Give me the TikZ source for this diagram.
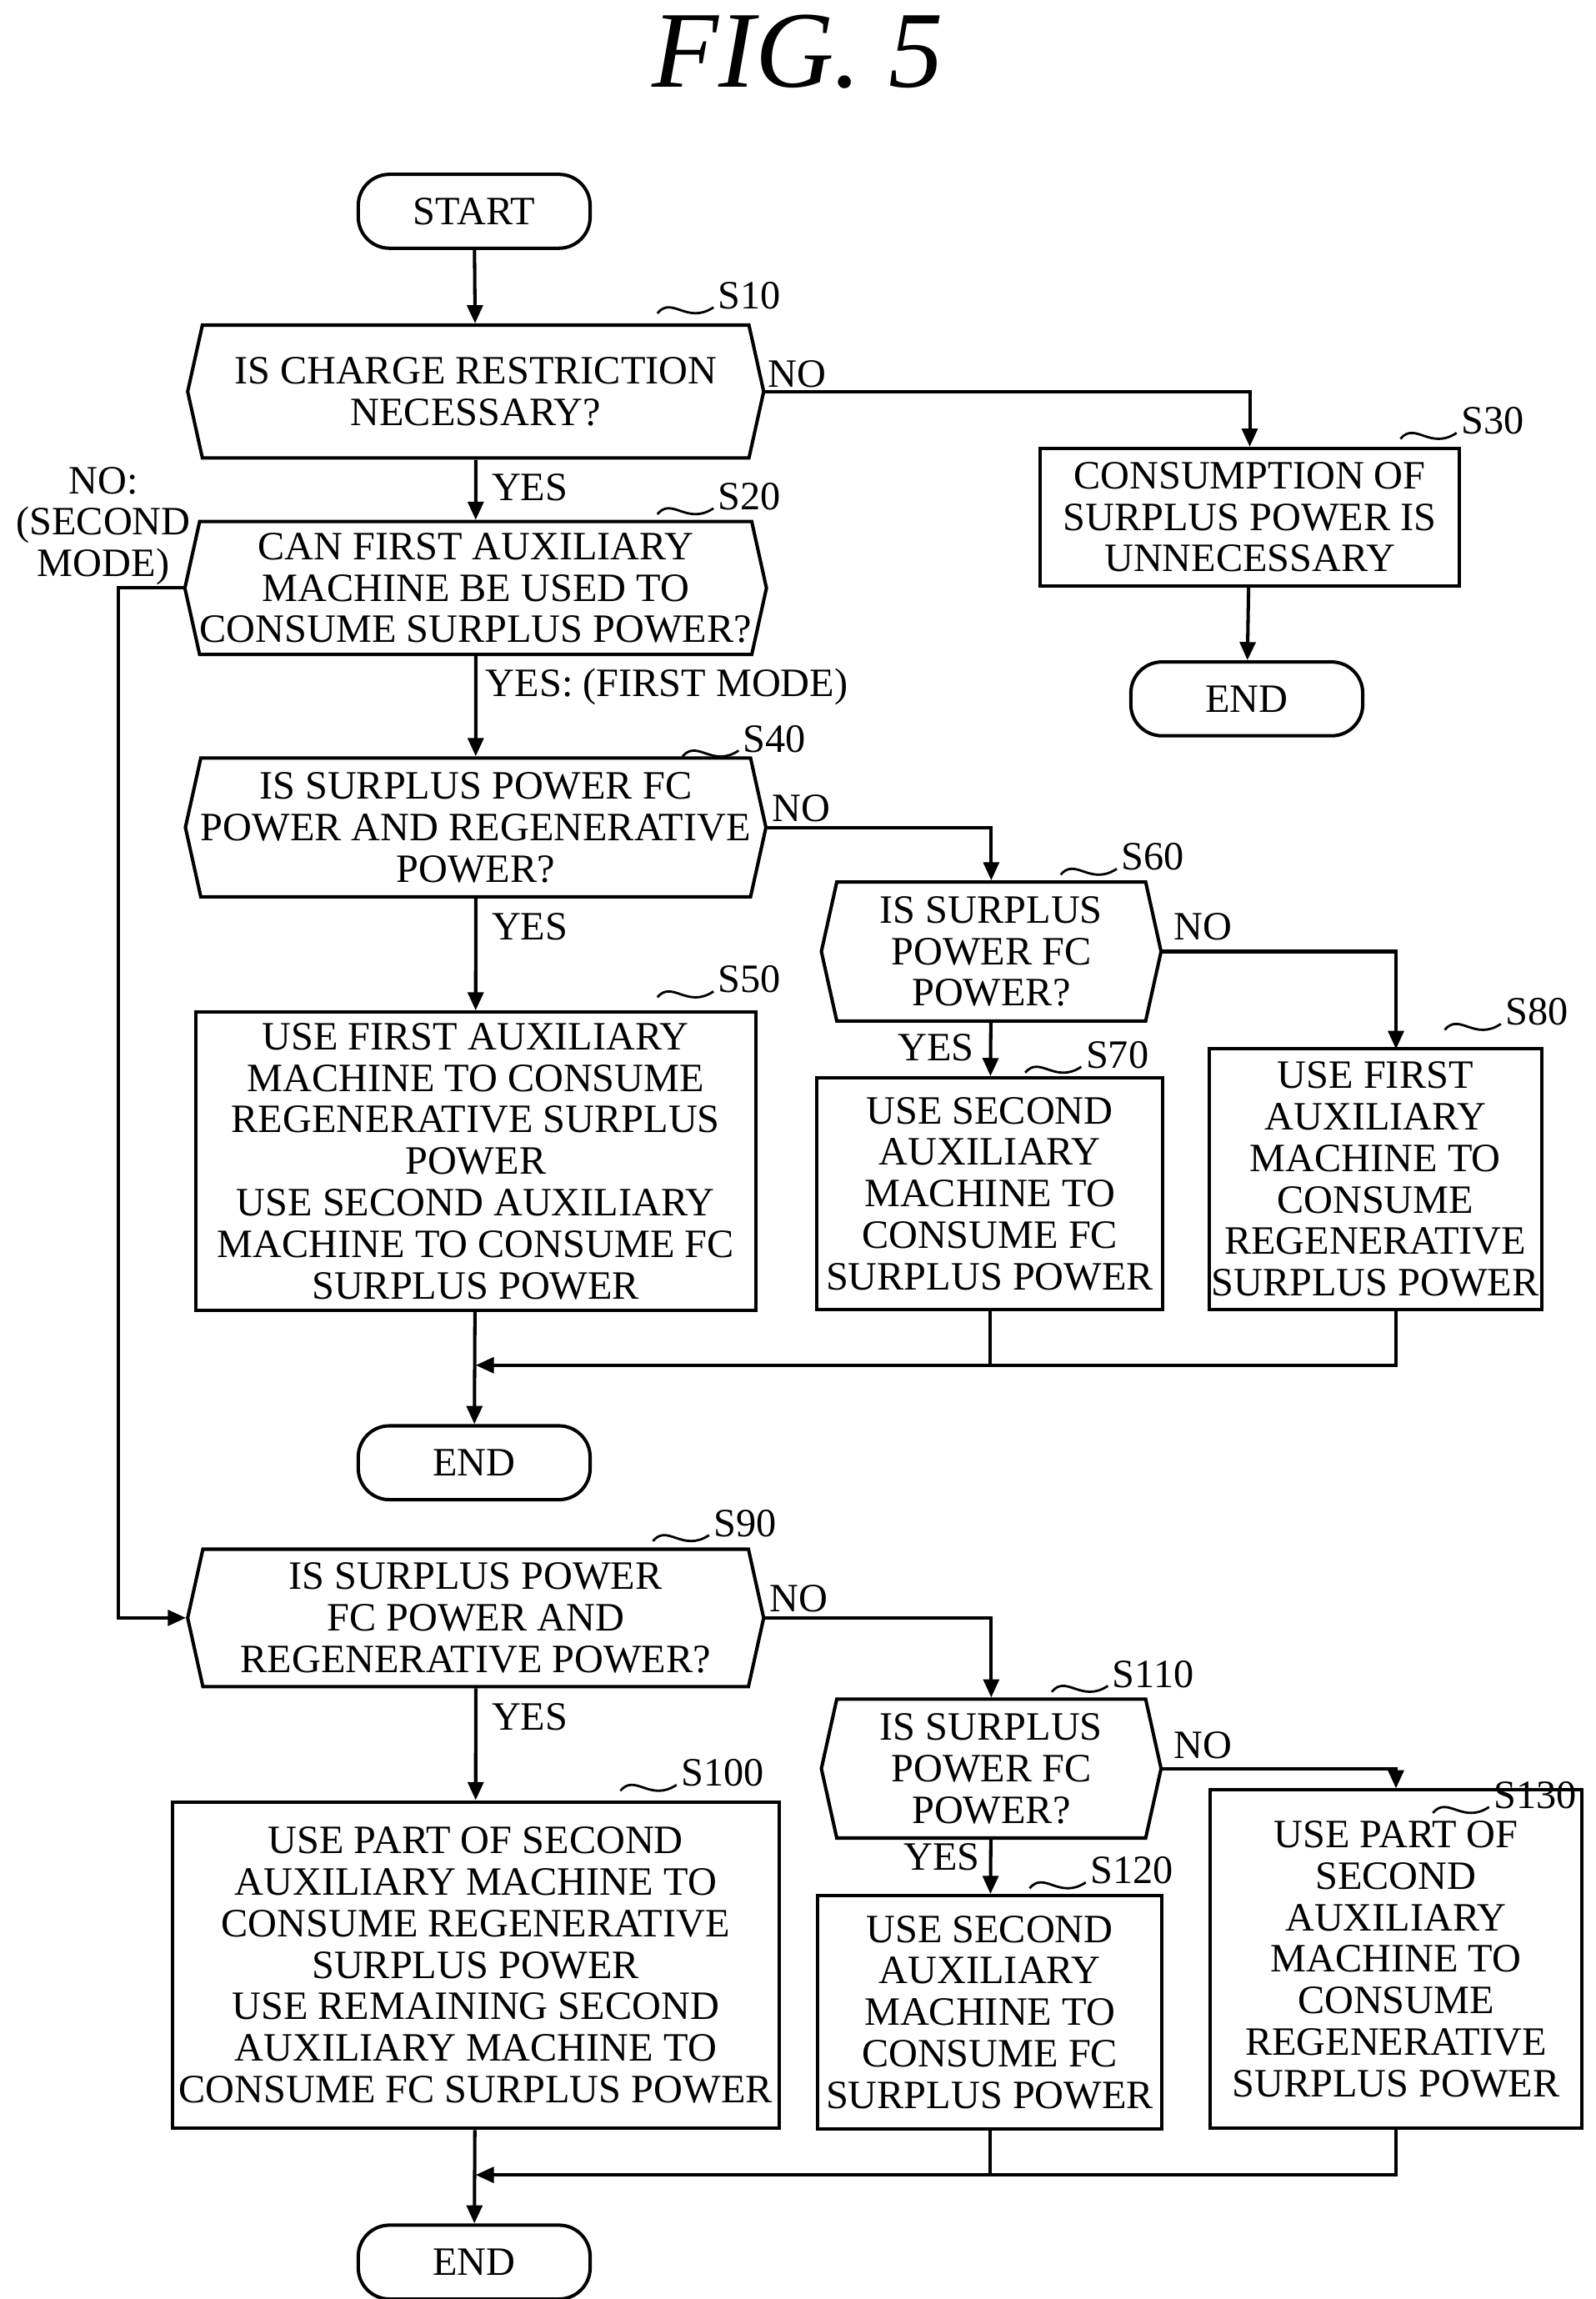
\documentclass[tikz,border=0pt]{standalone}
\usepackage{fontspec}
\setmainfont{Liberation Serif}
\usetikzlibrary{shapes.symbols,arrows.meta}
\begin{document}
\begin{tikzpicture}[x=0.02cm,y=-0.02cm,
  font=\fontsize{15.5}{16}\selectfont, line width=1.3pt,
  >={Triangle[length=7pt,width=6pt]},
  box/.style={draw,align=center,inner sep=0pt},
  hex/.style={draw,shape=signal,signal to=west and east,signal pointer angle=155,align=center,inner sep=0pt},
  term/.style={draw,rounded corners=12pt,minimum width=3.14cm,minimum height=1cm},
  lab/.style={inner sep=1pt}]
\useasboundingbox (0,0) rectangle (1080,1556);
\newcommand{\stp}[3]{\draw[line width=0.9pt] (#1,#2) .. controls (#1+10,#2-12) and (#1+20,#2+8) .. (#1+38,#2-4);
  \node[anchor=west,inner sep=0pt] at (#1+40,#2-12) {#3};}
\node at (540,35) {\fontsize{42}{42}\selectfont\itshape FIG. 5};
\node[term] (start) at (321,143) {START};
\node[hex,minimum width=7.8cm,minimum height=1.8cm] (s10) at (322,265) {IS CHARGE RESTRICTION\\NECESSARY?};
\node[box,minimum width=5.68cm,minimum height=1.86cm] (s30) at (846,350) {CONSUMPTION OF\\SURPLUS POWER IS\\UNNECESSARY};
\node[term] (end1) at (844,473) {END};
\node[hex,minimum width=7.8cm,minimum height=1.8cm] (s20) at (322,398) {CAN FIRST AUXILIARY\\MACHINE BE USED TO\\CONSUME SURPLUS POWER?};
\node[hex,minimum width=7.8cm,minimum height=1.88cm] (s40) at (322,560) {IS SURPLUS POWER FC\\POWER AND REGENERATIVE\\POWER?};
\node[hex,minimum width=4.6cm,minimum height=1.88cm] (s60) at (671,644) {IS SURPLUS\\POWER FC\\POWER?};
\node[box,minimum width=7.58cm,minimum height=4.04cm] (s50) at (322,786) {USE FIRST AUXILIARY\\MACHINE TO CONSUME\\REGENERATIVE SURPLUS\\POWER\\USE SECOND AUXILIARY\\MACHINE TO CONSUME FC\\SURPLUS POWER};
\node[box,minimum width=4.68cm,minimum height=3.14cm] (s70) at (670,808) {USE SECOND\\AUXILIARY\\MACHINE TO\\CONSUME FC\\SURPLUS POWER};
\node[box,minimum width=4.5cm,minimum height=3.54cm] (s80) at (931,798) {USE FIRST\\AUXILIARY\\MACHINE TO\\CONSUME\\REGENERATIVE\\SURPLUS POWER};
\node[term] (end2) at (321,990) {END};
\node[hex,minimum width=7.8cm,minimum height=1.86cm] (s90) at (322,1095) {IS SURPLUS POWER\\FC POWER AND\\REGENERATIVE POWER?};
\node[hex,minimum width=4.6cm,minimum height=1.88cm] (s110) at (671,1197) {IS SURPLUS\\POWER FC\\POWER?};
\node[box,minimum width=8.22cm,minimum height=4.42cm] (s100) at (322,1330) {USE PART OF SECOND\\AUXILIARY MACHINE TO\\CONSUME REGENERATIVE\\SURPLUS POWER\\USE REMAINING SECOND\\AUXILIARY MACHINE TO\\CONSUME FC SURPLUS POWER};
\node[box,minimum width=4.66cm,minimum height=3.16cm] (s120) at (670,1362) {USE SECOND\\AUXILIARY\\MACHINE TO\\CONSUME FC\\SURPLUS POWER};
\node[box,minimum width=5.04cm,minimum height=4.58cm] (s130) at (945,1326) {USE PART OF\\SECOND\\AUXILIARY\\MACHINE TO\\CONSUME\\REGENERATIVE\\SURPLUS POWER};
\node[term] (end3) at (321,1531) {END};
\coordinate (m1) at (322,924); \coordinate (m2) at (322,1472);
\coordinate (m1b) at (670,924); \coordinate (m2b) at (670,1472);
\draw[->] (start) -- (s10);
\draw[->] (s10.east) -| (s30.north);
\draw[->] (s30) -- (end1);
\draw[->] (s10) -- (s20);
\draw[->] (s20) -- (s40);
\draw[->] (s20.west) -- (80,398) |- (s90.west);
\draw[->] (s40.east) -| (s60.north);
\draw[->] (s40) -- (s50);
\draw[->] (s60) -- (s70);
\draw[->] (s60.east) -| (945,710);
\draw[->] (945,887) |- (m1);
\draw (s70) -- (m1b);
\draw[->] (s50) -- (end2);
\draw[->] (s90.east) -| (s110.north);
\draw[->] (s90) -- (s100);
\draw[->] (s110) -- (s120);
\draw[->] (s110.east) -| (s130.north);
\draw[->] (s130) |- (m2);
\draw (s120) -- (m2b);
\draw[->] (s100) -- (end3);
\node[lab,anchor=west] at (517,253) {NO};
\node[lab,anchor=west] at (330,330) {YES};
\node[lab,anchor=west] at (326,465) {YES: (FIRST MODE)};
\node[lab,anchor=west] at (520,547) {NO};
\node[lab,anchor=west] at (330,627) {YES};
\node[lab,anchor=west] at (792,627) {NO};
\node[lab,anchor=west] at (605,709) {YES};
\node[lab,align=center] at (70,356) {NO:\\(SECOND\\MODE)};
\node[lab,anchor=west] at (518,1082) {NO};
\node[lab,anchor=west] at (330,1162) {YES};
\node[lab,anchor=west] at (792,1181) {NO};
\node[lab,anchor=west] at (609,1257) {YES};
\stp{445}{212}{S10}
\stp{948}{297}{S30}
\stp{445}{348}{S20}
\stp{462}{512}{S40}
\stp{718}{592}{S60}
\stp{445}{675}{S50}
\stp{694}{726}{S70}
\stp{978}{697}{S80}
\stp{442}{1043}{S90}
\stp{712}{1145}{S110}
\stp{420}{1212}{S100}
\stp{697}{1278}{S120}
\stp{970}{1227}{S130}
\end{tikzpicture}
\end{document}
